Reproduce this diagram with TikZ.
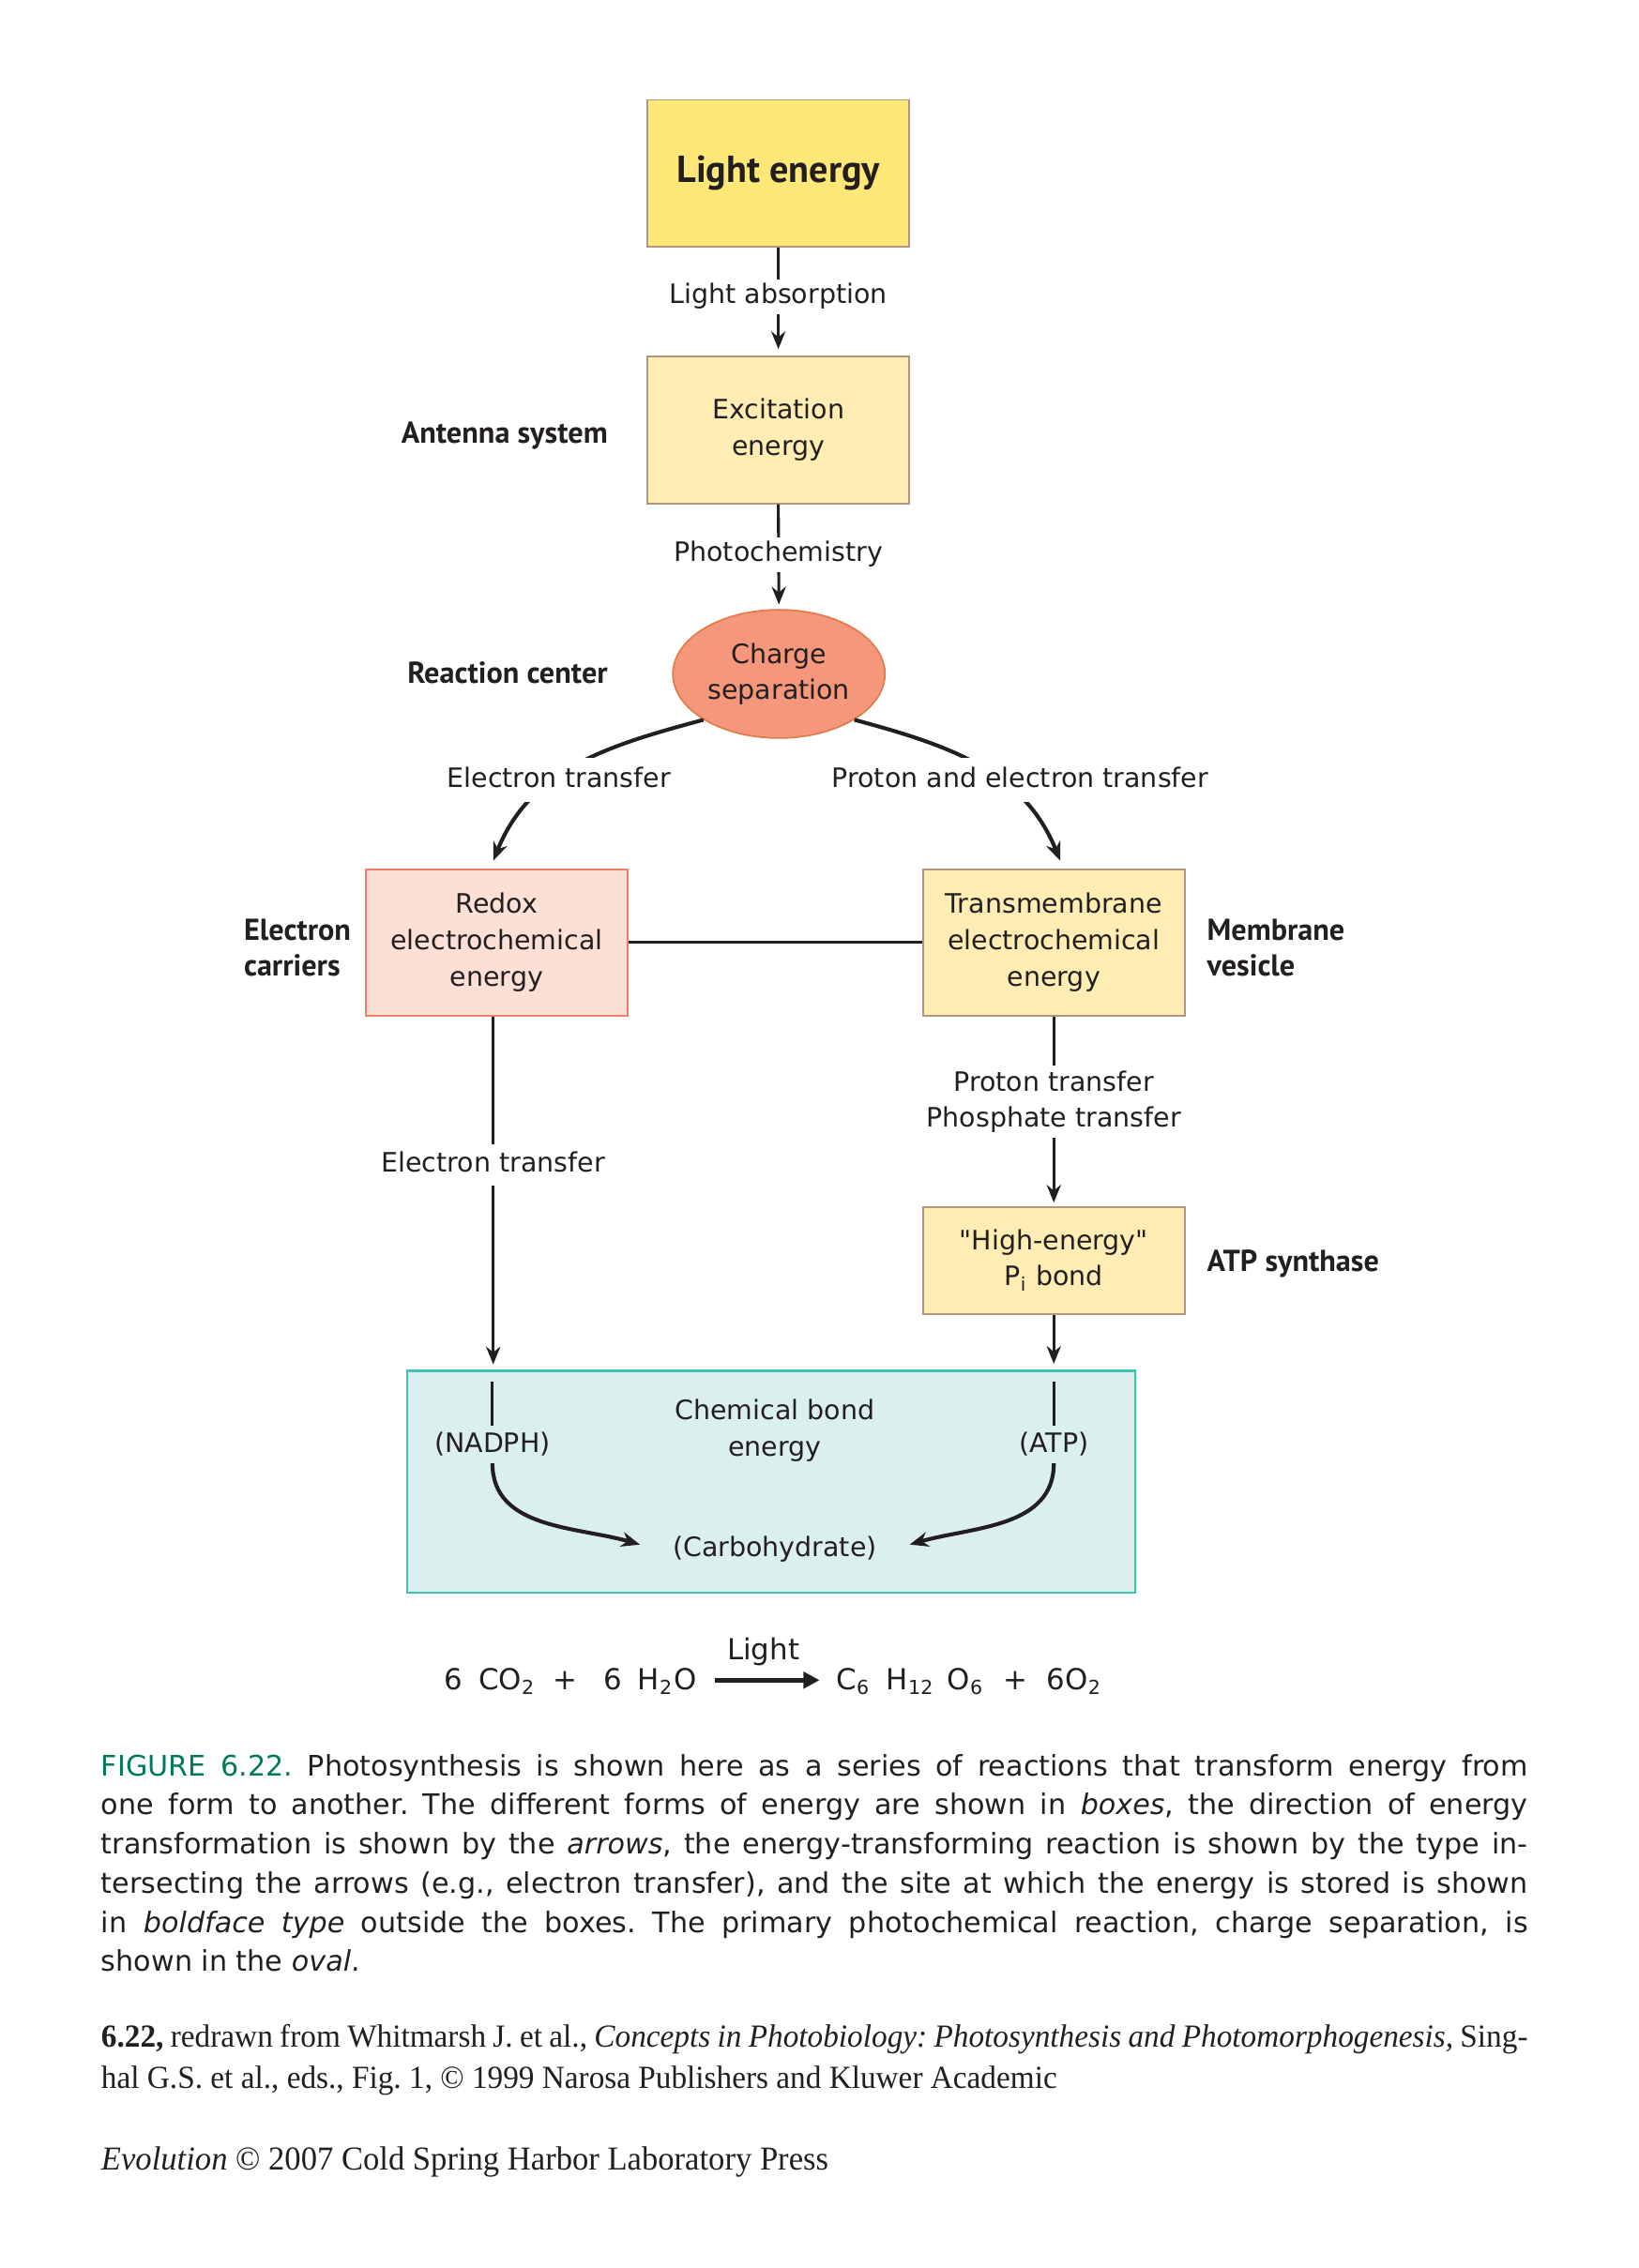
\documentclass[tikz,border=0pt]{standalone}
\usepackage{fontspec}
\setmainfont{DejaVu Sans}[ItalicFont={DejaVu Sans Oblique},BoldFont={DejaVu Sans Bold}]
\newfontfamily\ptsans{PT Sans}
\newfontfamily\srcfont{Liberation Serif}[FakeStretch=0.97]
\usetikzlibrary{arrows.meta,shapes.geometric,calc}
\definecolor{txt}{HTML}{231F20}
\definecolor{yel}{HTML}{FFE878}
\definecolor{lyel}{HTML}{FFEDB3}
\definecolor{tanb}{HTML}{B39579}
\definecolor{ellf}{HTML}{F4977A}
\definecolor{ellb}{HTML}{E27B4A}
\definecolor{redf}{HTML}{FCDFD5}
\definecolor{redb}{HTML}{F07F66}
\definecolor{chemf}{HTML}{DCEFEF}
\definecolor{chemb}{HTML}{3EC4B2}
\definecolor{figgreen}{HTML}{00795C}
\frenchspacing
\tikzset{
  lab/.style={font=\fontsize{8.3}{11.25}\selectfont, text=txt, align=center, inner sep=0pt},
  blab/.style={font=\ptsans\bfseries\fontsize{9.4}{11.25}\selectfont, text=txt, inner sep=0pt},
  tag/.style={lab, fill=white, inner xsep=2pt, inner ysep=1.3pt, text height=6.3pt, text depth=2pt},
  ctag/.style={lab, fill=white, inner xsep=2pt, inner ysep=2.6pt, text height=6.3pt, text depth=2pt},
  conn/.style={draw=txt, line width=0.9pt},
  arr/.style={conn, -{Stealth[length=5.5pt,width=4.4pt]}},
  carr/.style={draw=txt, line width=1.2pt, -{Stealth[length=5.8pt,width=4.6pt]}},
  ebox/.style={lab, draw=tanb, line width=0.5pt, fill=lyel, minimum width=180.7*0.45pt},
  eqs/.style={font=\fontsize{9}{11}\selectfont, text=txt, inner sep=0pt},
}
\begin{document}
\begin{tikzpicture}[x=0.45pt, y=-0.45pt]
\fill[white] (0,0) rectangle (1131,1566.3);
\useasboundingbox (0,0) rectangle (1131,1566.3);

% boxes
\node[ebox, fill=yel, minimum height=101.5*0.45pt, font=\ptsans\bfseries\fontsize{11.7}{14}\selectfont] (light) at (537.4,119.8) {Light energy};
\node[ebox, minimum height=101.7*0.45pt] (excit) at (537.4,296.9) {Excitation\\energy};
\node[ellipse, draw=ellb, line width=0.5pt, fill=ellf, minimum width=146.4*0.45pt, minimum height=88.6*0.45pt, lab] (charge) at (537.8,465.4) {Charge\\separation};
\node[ebox, draw=redb, fill=redf, minimum height=101*0.45pt] (redox) at (343,650.8) {Redox\\electrochemical\\energy};
\node[ebox, minimum height=101*0.45pt] (trans) at (727.6,650.8) {Transmembrane\\electrochemical\\energy};
\node[ebox, minimum height=73.8*0.45pt] (high) at (727.6,870.4) {{\addfontfeatures{Ligatures=TeXOff}"High-energy"}\\P\textsubscript{i} bond};
\node[lab, draw=chemb, line width=0.7pt, fill=chemf, minimum width=502.5*0.45pt, minimum height=153.4*0.45pt] (chem) at (532.5,1023.3) {};

% side labels
\node[blab, anchor=east] (antenna) at (420,300.7) {Antenna system};
\node[blab, anchor=east] (rc) at (420,464.4) {Reaction center};
\node[blab, anchor=west, align=left] (ec) at (168,654.5) {Electron\\carriers};
\node[blab, anchor=west, align=left] (mv) at (833,654.5) {Membrane\\vesicle};
\node[blab, anchor=west] (atps) at (833,873) {ATP synthase};

% connectors
\draw[arr, shorten >=2pt] (light.south) -- (excit.north);
\draw[arr, shorten >=1.4pt] (excit.south) -- (charge.north);
\draw[carr] (charge.south west) to[out=195,in=68] ([xshift=-1.1pt, yshift=2.4pt]redox.north);
\draw[carr] (charge.south east) to[out=-15,in=112] ([xshift=2pt, yshift=2.4pt]trans.north);
\draw[conn] (redox.east) -- (trans.west);
\draw[arr, shorten >=1.6pt] ([xshift=-1.1pt]redox.south) -- ([xshift=-1.1pt]redox.south |- chem.north);
\draw[arr, shorten >=1.1pt] (trans.south) -- (high.north);
\draw[arr, shorten >=1.8pt] (high.south) -- (high.south |- chem.north);

% connector labels
\node[tag] (t1) at (537.4,205) {Light absorption};
\node[tag] (t2) at (537.4,383) {Photochemistry};
\node[ctag] (t3) at (386,538.7) {Electron transfer};
\node[ctag] (t4) at (704.4,538.7) {Proton and electron transfer};
\node[tag, inner ysep=2.4pt] (t5) at (340.5,804.5) {Electron transfer};
\node[lab, fill=white, inner xsep=2pt, inner ysep=1.6pt] (t6) at (727.6,761) {Proton transfer\\Phosphate transfer};

% inside chemical bond box
\node[lab] (cbe) at (535,988) {Chemical bond\\energy};
\node[lab, inner ysep=2pt] (nadph) at (340,997.5) {(NADPH)};
\node[lab, inner ysep=2pt] (atp) at (727.6,997.5) {(ATP)};
\node[lab] (carb) at (535,1070) {(Carbohydrate)};
\coordinate (nadtop) at (340,954);
\coordinate (atptop) at (727.6,954);
\draw[conn] (nadtop) -- (nadtop |- nadph.north);
\draw[conn] (atptop) -- (atptop |- atp.north);
\draw[carr] (nadph.south) to[out=-90,in=164] ([xshift=-10pt, yshift=1.5pt]carb.west);
\draw[carr] (atp.south) to[out=-90,in=16] ([xshift=10pt, yshift=1.5pt]carb.east);

% equation
\node[eqs, anchor=base east] (eqL) at (481.3,1167) {6\hspace{5pt}CO\textsubscript{2}\hspace{5.5pt}+\hspace{8pt}6\hspace{5pt}H\textsubscript{2}O};
\node[eqs, anchor=base west] (eqR) at (577,1167) {C\textsubscript{6}\hspace{5pt}H\textsubscript{12}\hspace{4pt}O\textsubscript{6}\hspace{6pt}+\hspace{6pt}6O\textsubscript{2}};
\node[eqs] (lighteq) at (527,1140.8) {Light};
\draw[draw=txt, line width=1.3pt, -{Triangle[length=5pt,width=5pt]}] ([xshift=5.4pt, yshift=3pt]eqL.base east) -- ([xshift=-5pt, yshift=3pt]eqR.base west);

% caption
\node[anchor=base west, inner sep=0pt, text=txt] (cap) at (69.5,1226.4) {\parbox[t]{443.25pt}{\fontsize{8.8}{12.15}\selectfont\textcolor{figgreen}{FIGURE 6.22.} Photosynthesis is shown here as a series of reactions that transform energy from\linebreak one form to another. The different forms of energy are shown in \textit{boxes}, the direction of energy\linebreak transformation is shown by the \textit{arrows}, the energy-transforming reaction is shown by the type in-\linebreak tersecting the arrows (e.g., electron transfer), and the site at which the energy is stored is shown\linebreak in \textit{boldface type} outside the boxes. The primary photochemical reaction, charge separation, is\linebreak shown in the \textit{oval}.}};

\node[anchor=base west, inner sep=0pt, text=txt] (src) at (69.5,1414) {\parbox[t]{443.25pt}{\srcfont\fontsize{10}{12.6}\selectfont\textbf{6.22,} redrawn from Whitmarsh J. et al., \textit{Concepts in Photobiology: Photosynthesis and Photomorphogenesis,} Sing-\linebreak hal G.S. et al., eds., Fig. 1, © 1999 Narosa Publishers and Kluwer Academic}};

\node[anchor=base west, inner sep=0pt, text=txt, font=\srcfont\fontsize{10.4}{12}\selectfont] (evo) at (69.5,1498.5) {\textit{Evolution} © 2007 Cold Spring Harbor Laboratory Press};
\end{tikzpicture}
\end{document}
